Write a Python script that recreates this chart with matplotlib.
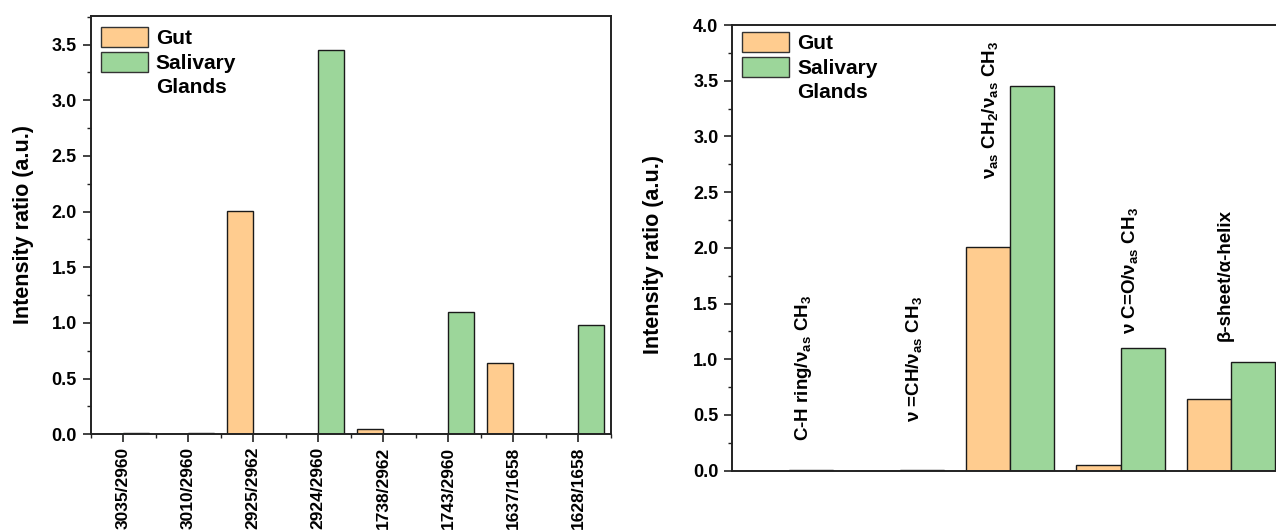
import matplotlib
matplotlib.use('Agg')
import matplotlib.pyplot as plt
from matplotlib.patches import Patch
from matplotlib.ticker import MultipleLocator, FixedLocator, NullLocator
import numpy as np

plt.rcParams['font.family'] = ['Liberation Sans', 'DejaVu Sans']
plt.rcParams['font.weight'] = 'bold'
plt.rcParams['axes.labelweight'] = 'bold'
plt.rcParams['mathtext.default'] = 'regular'

# band ratios, one bar per group and wavenumber pair
band_pairs = ['3035/2960', '3010/2960', '2925/2962', '2924/2960',
              '1738/2962', '1743/2960', '1637/1658', '1628/1658']
gut_pairs = [0.0, 0.0, 2.01, 0.0, 0.05, 0.0, 0.64, 0.0]
sg_pairs = [0.01, 0.01, 0.0, 3.45, 0.0, 1.10, 0.0, 0.98]

# same ratios grouped by assignment
assignments = [r'C-H ring/ν$_{as}$ CH$_3$',
               r'ν =CH/ν$_{as}$ CH$_3$',
               r'ν$_{as}$ CH$_2$/ν$_{as}$ CH$_3$',
               r'ν C=O/ν$_{as}$ CH$_3$',
               r'β-sheet/α-helix']
gut_groups = [0.0, 0.0, 2.01, 0.05, 0.64]
sg_groups = [0.01, 0.01, 3.45, 1.10, 0.98]
label_shift = [0.135, 0.13, -0.18, 0.09, -0.05]
label_base = [0.265, 0.44, 2.62, 1.23, 1.16]

gut_col = '#FFCC8F'
sg_col = '#9CD69A'
edge = '#1a1a1a'
W = 0.4

fig = plt.figure(figsize=(12.76, 5.31), dpi=100)
ax1 = fig.add_axes([90.8 / 1276, 1 - 434.3 / 531, 520 / 1276, 418.6 / 531])
ax2 = fig.add_axes([732.3 / 1276, 1 - 470.7 / 531, 554 / 1276, 445.7 / 531])


def style_axis(ax):
    for s in ax.spines.values():
        s.set_linewidth(1.4)
        s.set_color('#222222')
    ax.tick_params(axis='both', which='major', direction='out', length=6,
                   width=1.2, labelsize=13, pad=4, colors='#222222',
                   labelcolor='black')
    ax.tick_params(axis='both', which='minor', direction='out', length=3,
                   width=1.0, colors='#222222')
    ax.yaxis.set_major_locator(MultipleLocator(0.5))
    ax.yaxis.set_minor_locator(MultipleLocator(0.25))
    ax.yaxis.set_major_formatter(matplotlib.ticker.FormatStrFormatter('%.1f'))


def add_legend(ax, anchor):
    handles = [Patch(facecolor=gut_col, edgecolor='#333333', lw=1),
               Patch(facecolor=sg_col, edgecolor='#333333', lw=1),
               Patch(facecolor='none', edgecolor='none')]
    ax.legend(handles, ['Gut', 'Salivary', 'Glands'], loc='upper left',
              bbox_to_anchor=anchor, bbox_transform=fig.transFigure,
              frameon=False, borderpad=0, borderaxespad=0,
              handlelength=2.25, handleheight=1.12, handletextpad=0.4,
              labelspacing=0.16, prop={'weight': 'bold', 'size': 15})


# left panel: ratios by wavenumber pair
x1 = np.arange(len(band_pairs))
ax1.bar(x1 - W, gut_pairs, W, align='edge', color=gut_col, edgecolor=edge, lw=1)
ax1.bar(x1, sg_pairs, W, align='edge', color=sg_col, edgecolor=edge, lw=1)
ax1.set_xlim(-0.5, 7.5)
ax1.set_ylim(0, 3.76)
style_axis(ax1)
ax1.set_xticks(x1)
ax1.set_xticklabels(band_pairs, rotation=90, fontsize=12.5, va='top')
ax1.xaxis.set_minor_locator(FixedLocator(np.arange(-0.5, 8, 1)))
ax1.tick_params(axis='x', which='major', pad=3)
ax1.set_ylabel('Intensity ratio (a.u.)', fontsize=15.5)
ax1.yaxis.set_label_coords(-0.11, 0.5)
add_legend(ax1, (100.7 / 1276, 1 - 27 / 531))

# right panel: ratios by band assignment
x2 = np.arange(len(assignments))
ax2.bar(x2 - W, gut_groups, W, align='edge', color=gut_col, edgecolor=edge, lw=1)
ax2.bar(x2, sg_groups, W, align='edge', color=sg_col, edgecolor=edge, lw=1)
ax2.set_xlim(-0.513, 4.5)
ax2.set_ylim(0, 4.0)
style_axis(ax2)
ax2.xaxis.set_major_locator(NullLocator())
ax2.xaxis.set_minor_locator(NullLocator())
ax2.set_ylabel('Intensity ratio (a.u.)', fontsize=15.5)
ax2.yaxis.set_label_coords(-0.123, 0.486)
for i, lab in enumerate(assignments):
    ax2.text(x2[i] + label_shift[i], label_base[i], lab, rotation=90,
             ha='center', va='bottom', fontsize=13.5, fontweight='bold')
add_legend(ax2, (742.3 / 1276, 1 - 32 / 531))

fig.savefig('out.png', dpi=100)
